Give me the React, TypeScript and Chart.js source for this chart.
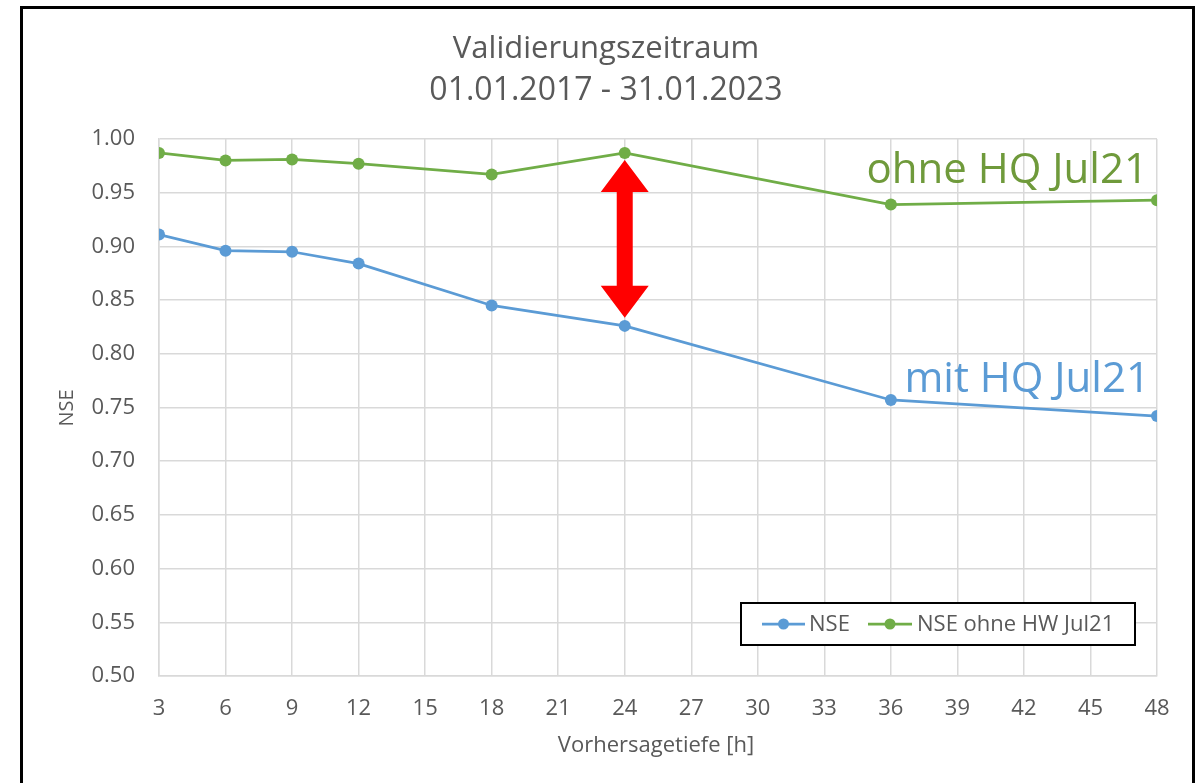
import React, { useEffect, useRef } from "react";
import { Chart, registerables } from "chart.js";

Chart.register(...registerables);

const hours = [3, 6, 9, 12, 18, 24, 36, 48];
const nseValues = [0.911, 0.896, 0.895, 0.884, 0.845, 0.826, 0.757, 0.742];
const nseOhneValues = [0.987, 0.98, 0.981, 0.977, 0.967, 0.987, 0.939, 0.943];
const seriesLabels = ["NSE", "NSE ohne HW Jul21"];
const titleLines = ["Validierungszeitraum", "01.01.2017 - 31.01.2023"];
const xTitle = "Vorhersagetiefe [h]";
const yTitle = "NSE";
const annotationOhne = "ohne HQ Jul21";
const annotationMit = "mit HQ Jul21";
const arrowX = 24;
const arrowFrom = 0.8335;
const arrowTo = 0.9805;

const BLUE = "#5B9BD5";
const GREEN = "#70AD47";
const GREEN_TEXT = "#6F9A3B";
const GRAY = "#595959";
const GRID = "#D9D9D9";
const FONT = "'Open Sans', sans-serif";

const decorPlugin = {
  id: "decor",
  afterDraw(chart: any) {
    const ctx = chart.ctx;
    const xs = chart.scales.x;
    const ys = chart.scales.y;
    ctx.save();

    // outer border
    ctx.strokeStyle = "#000";
    ctx.lineWidth = 3;
    ctx.strokeRect(21.5, 7.5, 1172, 900);

    // title
    ctx.fillStyle = GRAY;
    ctx.textAlign = "center";
    ctx.textBaseline = "alphabetic";
    ctx.font = `31px ${FONT}`;
    ctx.fillText(titleLines[0], 606, 58);
    ctx.font = `32px ${FONT}`;
    ctx.fillText(titleLines[1], 606, 100);

    // axis titles
    ctx.font = `22px ${FONT}`;
    ctx.fillText(xTitle, 656, 752);
    ctx.save();
    ctx.translate(73, 408);
    ctx.rotate(-Math.PI / 2);
    ctx.font = `20px ${FONT}`;
    ctx.fillText(yTitle, 0, 0);
    ctx.restore();

    // annotations
    ctx.font = `42px ${FONT}`;
    ctx.textAlign = "right";
    ctx.fillStyle = GREEN_TEXT;
    ctx.fillText(annotationOhne, 1148, 183);
    ctx.fillStyle = BLUE;
    ctx.fillText(annotationMit, 1150, 392);

    // red double arrow
    const ax = xs.getPixelForValue(arrowX);
    const yTop = ys.getPixelForValue(arrowTo);
    const yBot = ys.getPixelForValue(arrowFrom);
    const headW = 24;
    const headH = 32;
    const shaftW = 8;
    ctx.fillStyle = "#FF0000";
    ctx.beginPath();
    ctx.moveTo(ax, yTop);
    ctx.lineTo(ax + headW, yTop + headH);
    ctx.lineTo(ax + shaftW, yTop + headH);
    ctx.lineTo(ax + shaftW, yBot - headH);
    ctx.lineTo(ax + headW, yBot - headH);
    ctx.lineTo(ax, yBot);
    ctx.lineTo(ax - headW, yBot - headH);
    ctx.lineTo(ax - shaftW, yBot - headH);
    ctx.lineTo(ax - shaftW, yTop + headH);
    ctx.lineTo(ax - headW, yTop + headH);
    ctx.closePath();
    ctx.fill();

    // legend box
    ctx.fillStyle = "#FFFFFF";
    ctx.fillRect(741, 603, 394, 42);
    ctx.strokeStyle = "#000";
    ctx.lineWidth = 2;
    ctx.strokeRect(741, 603, 394, 42);
    const entries = [
      { color: BLUE, x0: 762, x1: 805, text: seriesLabels[0], tx: 809 },
      { color: GREEN, x0: 868, x1: 912, text: seriesLabels[1], tx: 917 },
    ];
    ctx.font = `22px ${FONT}`;
    ctx.textAlign = "left";
    ctx.textBaseline = "middle";
    for (const e of entries) {
      ctx.strokeStyle = e.color;
      ctx.lineWidth = 2.75;
      ctx.beginPath();
      ctx.moveTo(e.x0, 624);
      ctx.lineTo(e.x1, 624);
      ctx.stroke();
      ctx.fillStyle = e.color;
      ctx.beginPath();
      ctx.arc((e.x0 + e.x1) / 2, 624, 5.5, 0, Math.PI * 2);
      ctx.fill();
      ctx.fillStyle = GRAY;
      ctx.fillText(e.text, e.tx, 625);
    }
    ctx.restore();
  },
};

export default function App() {
  const ref = useRef<HTMLCanvasElement | null>(null);
  useEffect(() => {
    if (!ref.current) return;
    const chart = new Chart(ref.current, {
      type: "line",
      data: {
        datasets: [
          {
            label: seriesLabels[0],
            data: hours.map((h, i) => ({ x: h, y: nseValues[i] })),
            borderColor: BLUE,
            backgroundColor: BLUE,
            pointBackgroundColor: BLUE,
            borderWidth: 2.75,
            pointRadius: 6,
            pointBorderWidth: 0,
            tension: 0,
          },
          {
            label: seriesLabels[1],
            data: hours.map((h, i) => ({ x: h, y: nseOhneValues[i] })),
            borderColor: GREEN,
            backgroundColor: GREEN,
            pointBackgroundColor: GREEN,
            borderWidth: 2.75,
            pointRadius: 6,
            pointBorderWidth: 0,
            tension: 0,
          },
        ],
      },
      options: {
        responsive: false,
        animation: false,
        layout: { padding: { left: 0, right: 39, top: 139, bottom: 0 } },
        plugins: {
          legend: { display: false },
          title: { display: false },
          tooltip: { enabled: false },
        },
        scales: {
          x: {
            type: "linear",
            min: 3,
            max: 48,
            ticks: {
              stepSize: 3,
              color: GRAY,
              font: { family: FONT, size: 22 },
              padding: 20,
              maxRotation: 0,
              autoSkip: false,
            },
            grid: { color: GRID, lineWidth: 1.5, drawTicks: false },
            border: { color: GRID, width: 1.5 },
            afterFit: (s: any) => {
              s.height = 107;
            },
          },
          y: {
            min: 0.5,
            max: 1.0,
            ticks: {
              stepSize: 0.05,
              color: GRAY,
              font: { family: FONT, size: 22 },
              padding: 24,
              callback: (v: any) => Number(v).toFixed(2),
            },
            grid: { color: GRID, lineWidth: 1.5, drawTicks: false },
            border: { color: GRID, width: 1.5 },
            afterFit: (s: any) => {
              s.width = 159;
            },
          },
        },
      },
      plugins: [decorPlugin],
    });
    return () => chart.destroy();
  }, []);
  return (
    <div style={{ position: "absolute", left: 0, top: 0, width: 1196, height: 783, background: "#fff" }}>
      <canvas ref={ref} width={1196} height={783} />
    </div>
  );
}
